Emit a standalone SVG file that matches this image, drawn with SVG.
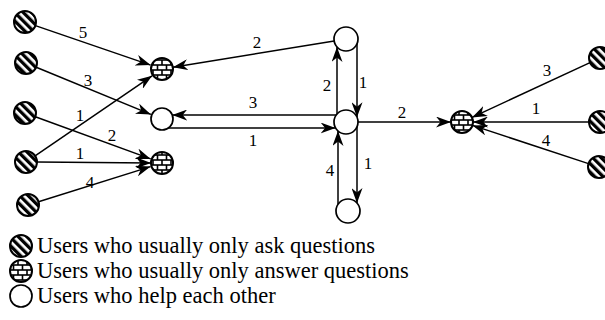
<svg xmlns="http://www.w3.org/2000/svg" width="605" height="320" viewBox="0 0 605 320">
<style>
.edge{stroke:#000;stroke-width:1.5;fill:none;marker-end:url(#arr)}
.ask{fill:url(#hatch);stroke:#000;stroke-width:2}
.ans{fill:url(#brick);stroke:#000;stroke-width:2}
.help{fill:#fff;stroke:#000;stroke-width:1.7}
.lbl{font-family:"Liberation Serif","Times New Roman",serif;font-size:17px;text-anchor:middle;fill:#000}
.leg{font-family:"Liberation Serif","Times New Roman",serif;font-size:22.5px;fill:#000}
</style>
<defs>
<pattern id="hatch" patternUnits="userSpaceOnUse" width="6" height="6" patternTransform="rotate(-45)">
<rect width="6" height="6" fill="#fff"/>
<rect width="3.3" height="6" fill="#000"/>
</pattern>
<pattern id="brick" patternUnits="userSpaceOnUse" width="9" height="10">
<rect width="9" height="10" fill="#000"/>
<rect x="0.8" y="0.8" width="7.4" height="3.4" fill="#fff"/>
<rect x="-3.7" y="5.8" width="7.4" height="3.4" fill="#fff"/>
<rect x="5.3" y="5.8" width="7.4" height="3.4" fill="#fff"/>
</pattern>
<marker id="arr" viewBox="0 0 15 11" markerWidth="15" markerHeight="11" refX="15" refY="5.5" orient="auto" markerUnits="userSpaceOnUse">
<path d="M0,0 L15,5.5 L0,11 L4.5,5.5 z" fill="#000"/>
</marker>
</defs>
<g id="connectors">
<line class="edge" x1="35.4" y1="25.6" x2="150.6" y2="65.1"/>
<line class="edge" x1="36.2" y1="67.2" x2="150.9" y2="114.4"/>
<line class="edge" x1="35.3" y1="116.8" x2="150.7" y2="158.9"/>
<line class="edge" x1="35.1" y1="155.8" x2="152.1" y2="75.8"/>
<line class="edge" x1="37" y1="162" x2="151" y2="163"/>
<line class="edge" x1="38.5" y1="201.7" x2="150.6" y2="166.6"/>
<line class="edge" x1="334.2" y1="40.9" x2="172.9" y2="67.2"/>
<line class="edge" x1="336.3" y1="115" x2="172.2" y2="115"/>
<line class="edge" x1="168.3" y1="128" x2="335.6" y2="128"/>
<line class="edge" x1="337" y1="114.1" x2="337" y2="47"/>
<line class="edge" x1="357" y1="43.8" x2="357" y2="117.2"/>
<line class="edge" x1="357" y1="126.8" x2="357" y2="203.1"/>
<line class="edge" x1="338" y1="204.4" x2="338" y2="130.9"/>
<line class="edge" x1="358" y1="122" x2="451" y2="122"/>
<line class="edge" x1="590" y1="62.6" x2="472" y2="117.4"/>
<line class="edge" x1="589" y1="122" x2="473" y2="122"/>
<line class="edge" x1="588.5" y1="163.6" x2="472.5" y2="125.4"/>
<text class="lbl" x="83" y="38">5</text>
<text class="lbl" x="88" y="86">3</text>
<text class="lbl" x="80" y="121">1</text>
<text class="lbl" x="112" y="141">2</text>
<text class="lbl" x="80" y="159">1</text>
<text class="lbl" x="90" y="188">4</text>
<text class="lbl" x="257" y="48">2</text>
<text class="lbl" x="253" y="108">3</text>
<text class="lbl" x="253" y="146">1</text>
<text class="lbl" x="327" y="91">2</text>
<text class="lbl" x="363" y="88">1</text>
<text class="lbl" x="368" y="169">1</text>
<text class="lbl" x="330" y="176">4</text>
<text class="lbl" x="402" y="118">2</text>
<text class="lbl" x="547" y="76">3</text>
<text class="lbl" x="536" y="114">1</text>
<text class="lbl" x="546" y="146">4</text>
</g>
<g id="A1"><circle class="ask" cx="25" cy="22" r="11"/></g>
<g id="A2"><circle class="ask" cx="26" cy="63" r="11"/></g>
<g id="A3"><circle class="ask" cx="25" cy="113" r="11"/></g>
<g id="A4"><circle class="ask" cx="26" cy="162" r="11"/></g>
<g id="A5"><circle class="ask" cx="28" cy="205" r="11"/></g>
<g id="W1"><circle class="ans" cx="162" cy="69" r="11"/></g>
<g id="H1"><circle class="help" cx="162" cy="119" r="11"/></g>
<g id="W2"><circle class="ans" cx="162" cy="163" r="11"/></g>
<g id="H2"><circle class="help" cx="346" cy="39" r="12"/></g>
<g id="H3"><circle class="help" cx="346" cy="122" r="12"/></g>
<g id="H4"><circle class="help" cx="348" cy="211" r="12"/></g>
<g id="W3"><circle class="ans" cx="462" cy="122" r="11"/></g>
<g id="R1"><circle class="ask" cx="600" cy="58" r="11"/></g>
<g id="R2"><circle class="ask" cx="600" cy="122" r="11"/></g>
<g id="R3"><circle class="ask" cx="599" cy="167" r="11"/></g>
<g id="legend">
<circle class="ask" cx="21" cy="246" r="11"/>
<text class="leg" x="37" y="253">Users who usually only ask questions</text>
<circle class="ans" cx="21" cy="271" r="11"/>
<text class="leg" x="37" y="278">Users who usually only answer questions</text>
<circle class="help" cx="21" cy="296" r="11"/>
<text class="leg" x="37" y="303">Users who help each other</text>
</g>
</svg>
